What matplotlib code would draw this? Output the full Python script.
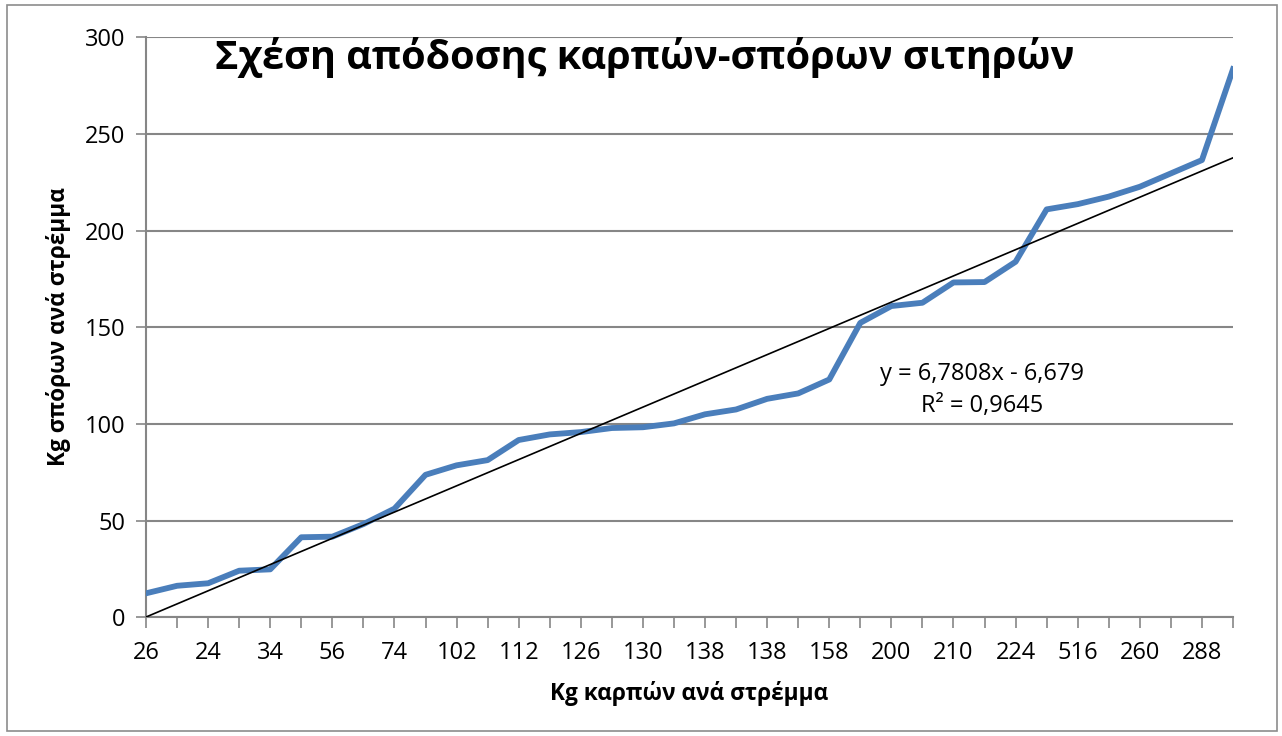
#!/usr/bin/env python3
"""Σχέση απόδοσης καρπών-σπόρων σιτηρών: line chart with linear trend."""

import matplotlib

matplotlib.use("Agg")
import matplotlib.pyplot as plt
import numpy as np
from matplotlib.patches import Rectangle

plt.rcParams["font.family"] = ["Open Sans", "DejaVu Sans"]

# kg seeds per stremma, one value per category (36 categories)
SEEDS = [12.4, 16.3, 17.6, 24.1, 24.8, 41.4, 41.7, 48.2, 56.2, 73.7,
         78.6, 81.3, 91.7, 94.6, 95.8, 97.9, 98.3, 100.3, 105.0, 107.5,
         113.0, 115.8, 123.0, 152.3, 161.0, 162.7, 173.2, 173.4, 183.9, 211.0,
         213.7, 217.6, 222.7, 229.6, 236.5, 283.5]
# only every other category label is shown on the axis
FRUIT_LABELS = ["26", "24", "34", "56", "74", "102", "112", "126", "130",
                "138", "138", "158", "200", "210", "224", "516", "260", "288"]
Y_TICKS = [0, 50, 100, 150, 200, 250, 300]

TITLE = "Σχέση απόδοσης καρπών-σπόρων σιτηρών"
XLABEL = "Kg καρπών ανά στρέμμα"
YLABEL = "Kg σπόρων ανά στρέμμα"
EQUATION = "y = 6,7808x - 6,679\nR² = 0,9645"

GRID = "#868686"
BLUE = "#4A7EBB"

W, H = 1282, 736
fig = plt.figure(figsize=(W / 100, H / 100), dpi=100)
left, right, top, bottom = 146, 1233, 37.3, 617.3
ax = fig.add_axes([left / W, 1 - bottom / H, (right - left) / W, (bottom - top) / H])

x = np.arange(len(SEEDS))
ax.plot(x, SEEDS, color=BLUE, lw=4.2, solid_joinstyle="round", zorder=3)

# linear trend, Excel-style on 1-based category index
xi = x + 1
slope, icpt = np.polyfit(xi, SEEDS, 1)
ax.plot(x, slope * xi + icpt, color="black", lw=1.2, zorder=4)

ax.set_xlim(0, len(SEEDS) - 1)
ax.set_ylim(0, 300)
ax.set_yticks(Y_TICKS)
ax.set_xticks(x, minor=True)
ax.set_xticks(x[::2])
ax.set_xticklabels(FRUIT_LABELS)
ax.tick_params(axis="x", which="both", length=8, width=1.2, color=GRID,
               direction="out", labelsize=17, pad=9)
ax.tick_params(axis="y", length=7, width=1.2, color=GRID, direction="out",
               labelsize=17, pad=8)
ax.grid(axis="y", color=GRID, lw=1.5, zorder=0)
for side in ("top", "right"):
    ax.spines[side].set_visible(False)
for side in ("left", "bottom"):
    ax.spines[side].set_color(GRID)
    ax.spines[side].set_linewidth(1.5)

fig.text(645 / W, 1 - 58 / H, TITLE, ha="center", va="center",
         fontsize=28.5, fontweight="bold")
fig.text(689 / W, 1 - 693 / H, XLABEL, ha="center", va="center",
         fontsize=16.3, fontweight="bold")
fig.text(59 / W, 1 - 327 / H, YLABEL, ha="center", va="center",
         fontsize=16.3, fontweight="bold", rotation=90)
fig.text(982 / W, 1 - 390 / H, EQUATION, ha="center", va="center",
         fontsize=17, linespacing=1.45, multialignment="center")

fig.patches.append(Rectangle((7 / W, 5 / H), 1270 / W, 726 / H,
                             transform=fig.transFigure, fill=False,
                             edgecolor="#8c8c8c", lw=1.2))

fig.savefig("out.png", dpi=100)
